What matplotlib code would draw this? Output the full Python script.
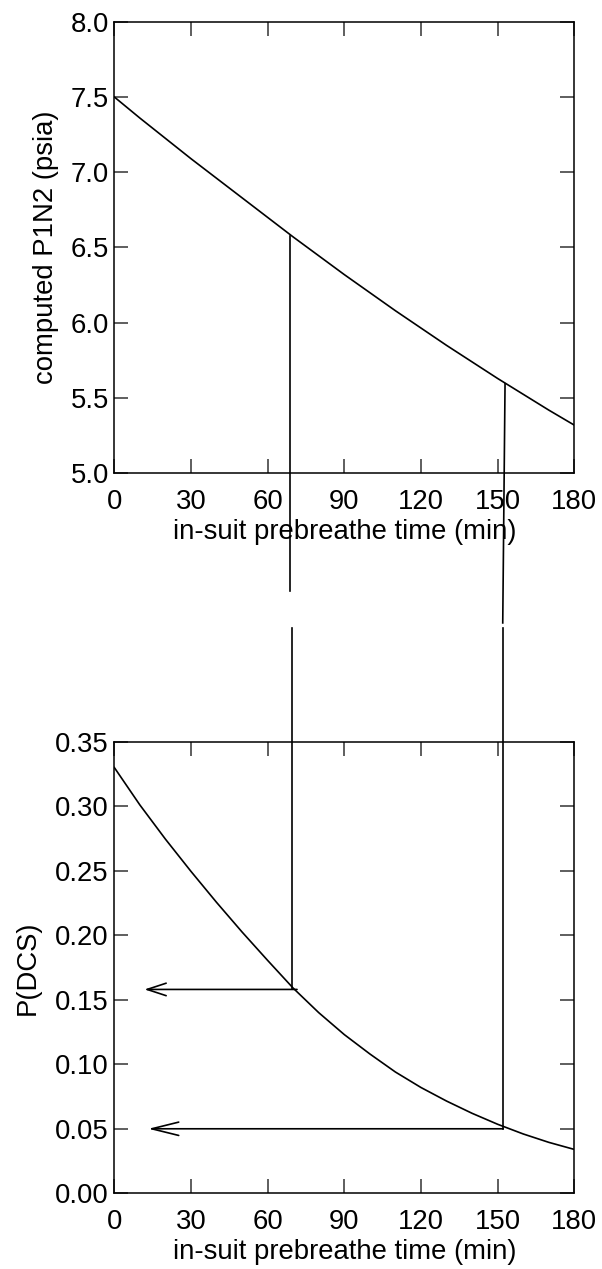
import matplotlib
matplotlib.use("Agg")
import matplotlib.pyplot as plt
from matplotlib.ticker import FormatStrFormatter

plt.rcParams['font.family'] = ['Liberation Sans', 'DejaVu Sans']

# ---- data ----
time_min = [0, 10, 20, 30, 40, 50, 60, 70, 80, 90, 100, 110, 120, 130, 140, 150, 160, 170, 180]
p1n2_psia = [7.50, 7.36, 7.225, 7.09, 6.96, 6.83, 6.70, 6.57, 6.445, 6.32, 6.20, 6.08,
             5.965, 5.85, 5.74, 5.63, 5.525, 5.42, 5.32]
p_dcs = [0.330, 0.301, 0.2745, 0.2495, 0.2255, 0.2025, 0.1805, 0.159, 0.140, 0.123, 0.108,
         0.094, 0.082, 0.0715, 0.062, 0.0535, 0.046, 0.0395, 0.034]

x_ticks = [0, 30, 60, 90, 120, 150, 180]
top_yticks = [5.0, 5.5, 6.0, 6.5, 7.0, 7.5, 8.0]
bot_yticks = [0.00, 0.05, 0.10, 0.15, 0.20, 0.25, 0.30, 0.35]

# selected prebreathe times (two read-offs)
sel_time_top = [68.8, 152.9]      # where the connector meets the P1N2 curve
sel_time_top_end = [68.8, 152.0]  # lower end of the upper connector piece
sel_p1n2 = [6.578, 5.595]
sel_top_end_y = [4.218, 4.006]    # end of upper connector pieces (P1N2 units)
sel_time_bot = [69.7, 152.2]
sel_pdcs = [0.158, 0.050]
sel_bot_start_y = [0.438, 0.438]  # start of lower connector pieces (P(DCS) units)
arrow_start_x = [71.5, 152.2]
arrow_tip_x = [11.8, 13.3]
arrow_head_len = [1.37, 1.94]
arrow_head_w = [0.45, 0.48]

FS = 19.8
W, H = 602, 1269
fig = plt.figure(figsize=(W / 100, H / 100), dpi=100)

left = 114.3 / W
width = 460 / W
ah = 451.6 / H
ax1 = fig.add_axes([left, (H - 473.3) / H, width, ah])
ax2 = fig.add_axes([left, (H - 1193.3) / H, width, ah])

for ax in (ax1, ax2):
    for s in ax.spines.values():
        s.set_linewidth(1.1)
        s.set_color('black')
    ax.set_xlim(0, 180)
    ax.set_xticks(x_ticks)
    ax.tick_params(direction='in', length=10, width=1.1, top=True, right=True,
                   labelsize=FS, color='#333333')
    ax.tick_params(axis='x', pad=11.5)
    ax.tick_params(axis='y', pad=4)
    ax.set_xlabel('in-suit prebreathe time (min)', fontsize=FS, labelpad=3)

# top panel
ax1.set_ylim(5.0, 8.0)
ax1.set_yticks(top_yticks)
ax1.yaxis.set_major_formatter(FormatStrFormatter('%.1f'))
ax1.plot(time_min, p1n2_psia, color='black', lw=1.2)
ax1.set_ylabel('computed P1N2 (psia)', fontsize=FS, labelpad=8)
for i in range(2):
    ax1.plot([sel_time_top[i], sel_time_top_end[i]], [sel_p1n2[i], sel_top_end_y[i]],
             color='black', lw=1.2, clip_on=False)

# bottom panel
ax2.set_ylim(0.0, 0.35)
ax2.set_yticks(bot_yticks)
ax2.yaxis.set_major_formatter(FormatStrFormatter('%.2f'))
ax2.plot(time_min, p_dcs, color='black', lw=1.2)
ax2.set_ylabel('P(DCS)', fontsize=FS, labelpad=10)
for i in range(2):
    ax2.plot([sel_time_bot[i], sel_time_bot[i]], [sel_bot_start_y[i], sel_pdcs[i]],
             color='black', lw=1.2, clip_on=False)
    ax2.annotate('', xy=(arrow_tip_x[i], sel_pdcs[i]), xytext=(arrow_start_x[i], sel_pdcs[i]),
                 arrowprops=dict(arrowstyle='->,head_length=%g,head_width=%g'
                                 % (arrow_head_len[i], arrow_head_w[i]),
                                 mutation_scale=10, lw=1.2, color='black',
                                 shrinkA=0, shrinkB=0))

fig.savefig('out.png', dpi=100)
